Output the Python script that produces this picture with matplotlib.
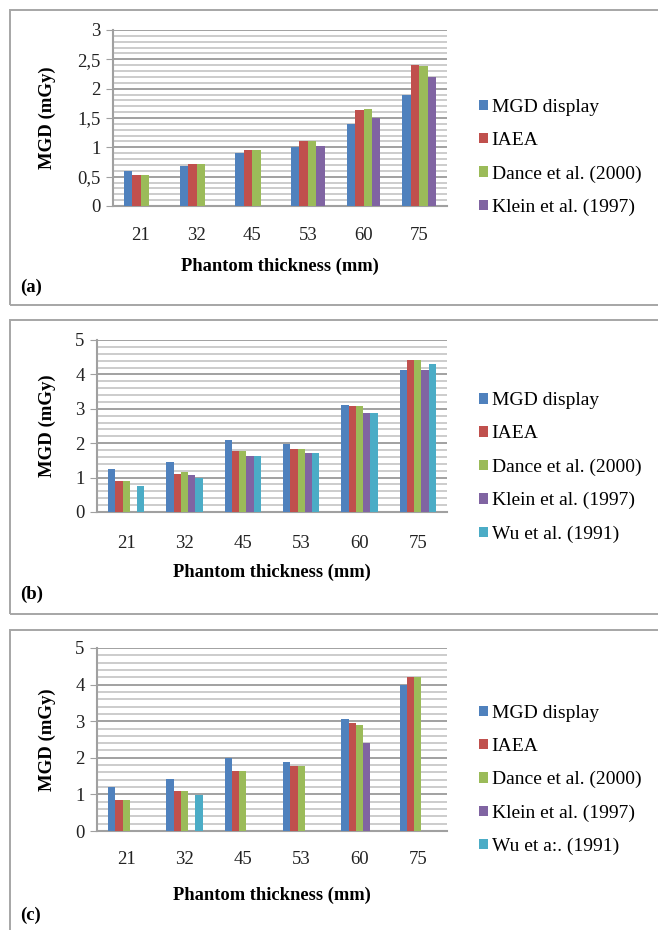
import numpy as np
import matplotlib
matplotlib.use("Agg")
import matplotlib.pyplot as plt
import matplotlib.transforms as mtransforms
from matplotlib.patches import Rectangle
from matplotlib.ticker import MultipleLocator

nan = np.nan
categories = ["21", "32", "45", "53", "60", "75"]
series_names = ["MGD display", "IAEA", "Dance et al. (2000)", "Klein et al. (1997)", "Wu et al. (1991)"]
series_names_c = ["MGD display", "IAEA", "Dance et al. (2000)", "Klein et al. (1997)", "Wu et a:. (1991)"]
colors = ["#4F81BD", "#C0504D", "#9BBB59", "#8064A2", "#4BACC6"]

# Panel (a)
a_mgd = [0.59, 0.69, 0.90, 1.00, 1.39, 1.90]
a_iaea = [0.53, 0.71, 0.95, 1.10, 1.63, 2.40]
a_dance = [0.53, 0.71, 0.95, 1.10, 1.65, 2.39]
a_klein = [nan, nan, nan, 1.03, 1.50, 2.20]

# Panel (b)
b_mgd = [1.25, 1.46, 2.09, 1.98, 3.11, 4.12]
b_iaea = [0.91, 1.11, 1.76, 1.84, 3.07, 4.42]
b_dance = [0.91, 1.17, 1.76, 1.84, 3.07, 4.42]
b_klein = [nan, 1.07, 1.62, 1.71, 2.89, 4.12]
b_wu = [0.75, 1.00, 1.62, 1.71, 2.89, 4.29]

# Panel (c)
c_mgd = [1.21, 1.41, 2.00, 1.89, 3.05, 4.00]
c_iaea = [0.86, 1.10, 1.65, 1.77, 2.94, 4.21]
c_dance = [0.86, 1.10, 1.65, 1.77, 2.90, 4.20]
c_klein = [nan, nan, nan, nan, 2.41, nan]
c_wu = [nan, 0.99, nan, nan, nan, nan]

a_yticks = [0, 0.5, 1, 1.5, 2, 2.5, 3]
a_yticklabels = ["0", "0,5", "1", "1,5", "2", "2,5", "3"]
bc_yticks = [0, 1, 2, 3, 4, 5]
bc_yticklabels = ["0", "1", "2", "3", "4", "5"]

W, H = 658, 930
fig = plt.figure(figsize=(W / 100, H / 100), dpi=100)
serif = ["Liberation Serif", "DejaVu Serif"]


def fx(px):
    return px / W


def fy(py):
    return 1 - py / H


def panel(border, axbox, data, names, yticks, ylabels, minor, ymax,
          tick_y, xlabel_y, tag_y, tag, leg_cy, group_frac):
    x0, y0, x1, y1 = border
    fig.patches.append(Rectangle((fx(x0), fy(y1)), fx(x1 - x0), (y1 - y0) / H,
                                 transform=fig.transFigure, fill=False,
                                 edgecolor="#a6a6a6", lw=1.4))
    l, t, r, b = axbox
    ax = fig.add_axes([fx(l), fy(b), fx(r - l), (b - t) / H])
    n = len(data)
    w = group_frac / n
    x = np.arange(len(categories))
    handles = []
    for i, vals in enumerate(data):
        h = ax.bar(x + (i - (n - 1) / 2) * w, vals, width=w, color=colors[i],
                   linewidth=0, zorder=3)
        handles.append(h)
    ax.set_xlim(-0.5, len(categories) - 0.5)
    ax.set_ylim(0, ymax)
    ax.set_yticks(yticks)
    ax.set_yticklabels(ylabels, fontsize=13.5, family=serif, color="#222222")
    ax.yaxis.set_minor_locator(MultipleLocator(minor))
    ax.grid(axis="y", which="major", color="#9a9a9a", lw=1.3, zorder=0)
    ax.grid(axis="y", which="minor", color="#c8c8c8", lw=1.3, zorder=0)
    ax.set_xticks(x)
    ax.set_xticklabels([])
    ax.tick_params(axis="x", length=0)
    ax.tick_params(axis="y", which="major", length=5, color="#a0a0a0", pad=4)
    ax.tick_params(axis="y", which="minor", length=0)
    for s in ["top", "right"]:
        ax.spines[s].set_visible(False)
    for s in ["left", "bottom"]:
        ax.spines[s].set_color("#a0a0a0")
        ax.spines[s].set_linewidth(1.5)
    trans = mtransforms.blended_transform_factory(ax.transData, fig.transFigure)
    for xi, c in zip(x, categories):
        ax.text(xi, fy(tick_y), c, transform=trans, ha="center", va="center",
                fontsize=13.5, family=serif, color="#222222")
    fig.text(fx((l + r) / 2), fy(xlabel_y), "Phantom thickness (mm)", ha="center",
             va="center", fontsize=13.3, fontweight="bold", family=serif)
    fig.text(fx(47), fy((t + b) / 2), "MGD (mGy)", rotation=90, ha="center",
             va="center", fontsize=13.5, fontweight="bold", family=serif)
    fig.text(fx(x0 + 10), fy(tag_y), tag, ha="left", va="center", fontsize=13.5,
             fontweight="bold", family=serif)
    fig.legend(handles, names, loc="center left",
               bbox_to_anchor=(fx(479), fy(leg_cy)), bbox_transform=fig.transFigure,
               frameon=False, prop={"family": serif, "size": 14},
               handlelength=0.45, handleheight=0.45, handletextpad=0.2,
               labelspacing=0.83, borderaxespad=0, borderpad=0)
    return ax


panel((10, 10, 664, 305), (113, 30, 447, 206),
      [a_mgd, a_iaea, a_dance, a_klein], series_names[:4],
      a_yticks, a_yticklabels, 0.1, 3, 236, 266, 287, "(a)", 157.5, 0.6)
panel((10, 320, 664, 614), (97, 340, 447, 512),
      [b_mgd, b_iaea, b_dance, b_klein, b_wu], series_names,
      bc_yticks, bc_yticklabels, 0.2, 5, 543, 572, 594, "(b)", 467.5, 0.62)
panel((10, 630, 664, 940), (97, 648, 447, 831),
      [c_mgd, c_iaea, c_dance, c_klein, c_wu], series_names_c,
      bc_yticks, bc_yticklabels, 0.2, 5, 859, 895, 915, "(c)", 780, 0.62)

fig.savefig("out.png", dpi=100)
